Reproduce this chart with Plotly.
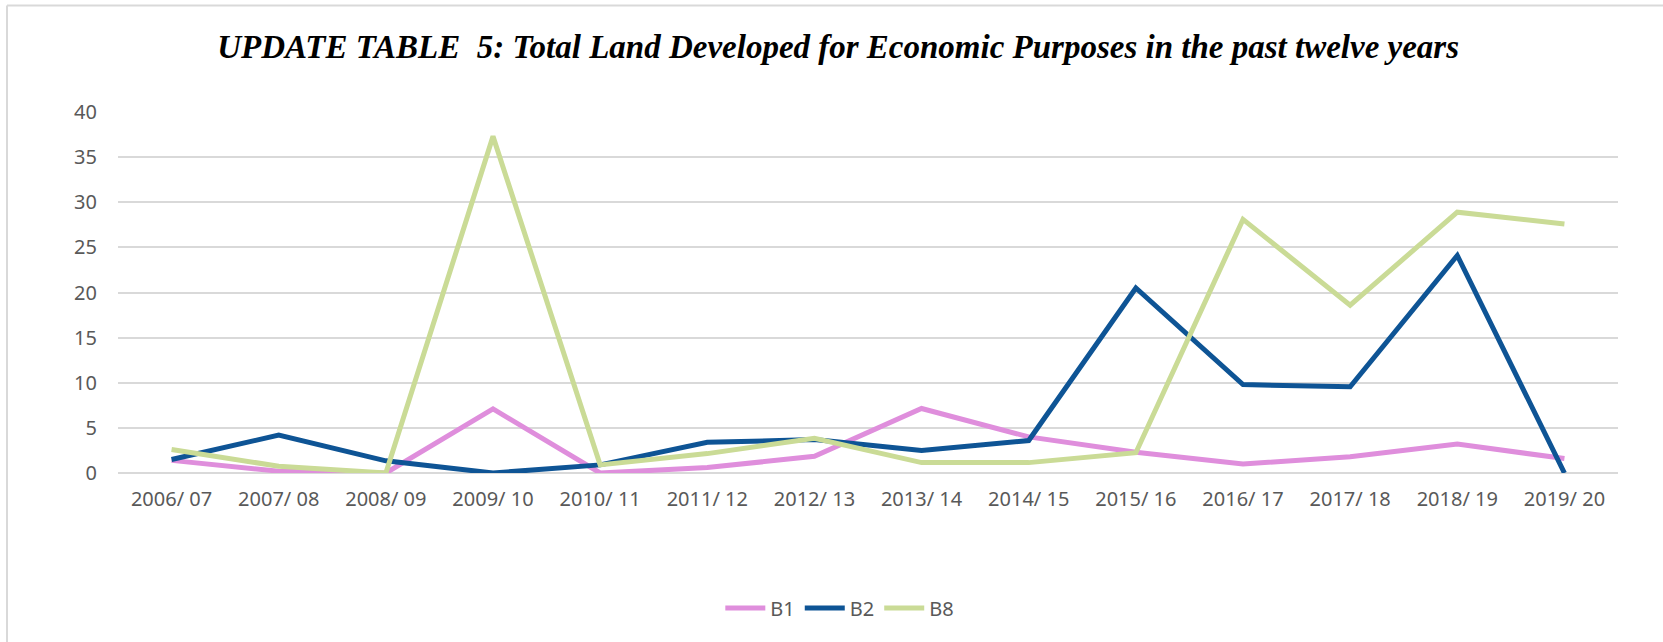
import plotly.graph_objects as go

years = ["2006/ 07", "2007/ 08", "2008/ 09", "2009/ 10", "2010/ 11", "2011/ 12", "2012/ 13",
         "2013/ 14", "2014/ 15", "2015/ 16", "2016/ 17", "2017/ 18", "2018/ 19", "2019/ 20"]
b1 = [1.4, 0.2, 0.0, 7.1, 0.0, 0.6, 1.85, 7.15, 4.0, 2.3, 1.0, 1.8, 3.2, 1.6]
b2 = [1.5, 4.2, 1.35, 0.0, 0.9, 3.4, 3.7, 2.5, 3.6, 20.5, 9.8, 9.55, 24.1, 0.0]
b8 = [2.6, 0.75, 0.0, 37.3, 0.9, 2.15, 3.85, 1.15, 1.15, 2.25, 28.1, 18.6, 28.9, 27.6]
y_ticks = [0, 5, 10, 15, 20, 25, 30, 35, 40]

series = [("B1", b1, "#DF8EDC"), ("B2", b2, "#0E5495"), ("B8", b8, "#CADB96")]

fig = go.Figure()
for name, vals, color in series:
    fig.add_trace(go.Scatter(x=years, y=vals, name=name, mode="lines",
                             line=dict(color=color, width=5)))

grey = "#595959"
fig.update_layout(
    width=1663, height=642,
    margin=dict(l=118, r=45, t=112, b=169),
    paper_bgcolor="white", plot_bgcolor="white",
    title=dict(text="UPDATE TABLE  5: Total Land Developed for Economic Purposes in the past twelve years",
               font=dict(family="Liberation Serif", size=33, color="black", weight="bold", style="italic"),
               xref="container", x=0.504, xanchor="center", yref="container", y=0.927, yanchor="middle"),
    legend=dict(orientation="h", xref="container", x=0.505, xanchor="center",
                yref="container", y=0.053, yanchor="middle",
                font=dict(family="Noto Sans", size=20, color=grey), itemwidth=40),
    xaxis=dict(type="category", range=[-0.5, 13.5], showgrid=False, showline=False, zeroline=False,
               ticks="", tickfont=dict(family="Noto Sans", size=20, color=grey), ticklabelstandoff=12),
    yaxis=dict(range=[0, 40], tickvals=y_ticks, showgrid=True, gridcolor="#D9D9D9", gridwidth=1.5,
               zeroline=True, zerolinecolor="#D9D9D9", zerolinewidth=1.5, showline=False, ticks="",
               tickfont=dict(family="Noto Sans", size=20, color=grey), ticklabelstandoff=20),
    showlegend=True,
    shapes=[
        dict(type="line", xref="paper", yref="paper", x0=-0.074, x1=1.04, y0=1.295, y1=1.295,
             line=dict(color="#D9D9D9", width=2)),
        dict(type="line", xref="paper", yref="paper", x0=-0.074, x1=-0.074, y0=1.295, y1=-0.48,
             line=dict(color="#D9D9D9", width=2)),
    ],
)

fig.write_html("out.html")
